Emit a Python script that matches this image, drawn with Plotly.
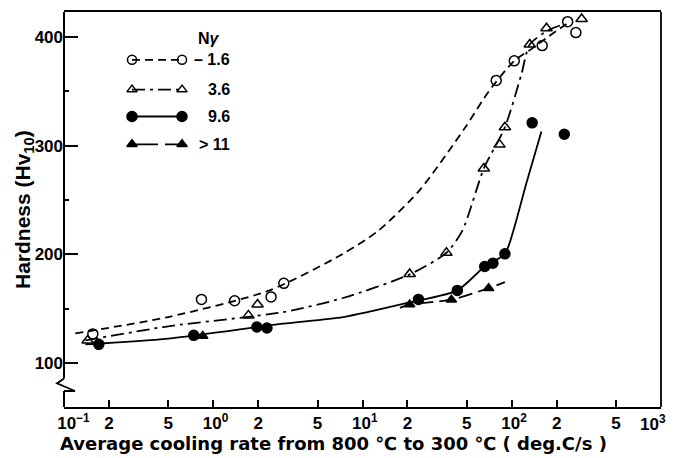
import plotly.graph_objects as go

# ---------------- data ----------------
# measured points
pts_16_x = [0.156, 0.834, 1.39, 2.44, 2.97, 78.7, 104, 160, 237, 269]
pts_16_y = [127, 158.7, 157.5, 161, 173.5, 360, 378, 392, 414, 404]

pts_36_x = [0.144, 1.72, 1.98, 20.7, 36.5, 65, 82.8, 90, 132, 171, 294]
pts_36_y = [121, 144, 154, 182, 201.5, 279, 301, 317, 393, 408, 416.5]

pts_96_x = [0.171, 0.74, 1.96, 2.29, 23.7, 43.2, 65.9, 74.8, 90, 137, 225]
pts_96_y = [117.4, 125.7, 133.3, 132.4, 158.7, 167, 189, 192, 200.6, 321, 310.5]

pts_11_x = [0.85, 20.7, 39.4, 70]
pts_11_y = [125, 154, 158.4, 169]

# hand-drawn fit curves
curve_16_x = [0.119, 0.50, 2.38, 7.4, 12.8, 24.1, 48.9, 70.2, 104, 136, 175, 242]
curve_16_y = [127.5, 142.5, 167, 200.6, 222, 259, 317, 350, 378, 389, 400, 413.5]

curve_36_x = [0.139, 0.5, 2.93, 7.4, 20.7, 36.5, 46.7, 65, 90, 116, 132, 175, 226]
curve_36_y = [121, 134, 147, 160, 181.7, 201.6, 222, 279, 317, 365.5, 393, 406, 412]

curve_96_x = [0.139, 0.5, 2.93, 7.4, 20.7, 43.2, 65.9, 90, 102.6, 125, 158]
curve_96_y = [117.4, 122.7, 136.4, 142.5, 156, 167, 189, 200.6, 222, 265, 313]

curve_11_x = [17.8, 20.7, 39.4, 70, 90]
curve_11_y = [151, 154, 158.4, 169, 174.6]

NB = "\u00a0"
x_tickvals = [0.1, 0.2, 0.5, 1, 2, 5, 10, 20, 50, 100, 200, 500, 1000]
x_ticktext = [NB * 4 + "10<sup>−1</sup>", "2", "5", NB + "10<sup>0</sup>", "2", "5",
              NB + "10<sup>1</sup>", "2", "5", NB + "10<sup>2</sup>", "2", "5", ""]
x_last_label = "10<sup>3</sup>"   # drawn separately so it is not clipped at the edge
y_tickvals = [100, 200, 300, 400]
y_minorvals = [150, 250, 350]

legend_title = "N<i>γ</i>"
legend_labels = ["– 1.6", "3.6", "9.6", "> 11"]

# ---------------- styles ----------------
FONT = "Liberation Sans"
BLK = "black"
DASH_16 = "8px,5px"
DASH_36 = "13px,5px,3px,5px"
DASH_11 = "14px,6px"

fig = go.Figure()


def add_curve(x, y, dash):
    fig.add_trace(go.Scatter(x=x, y=y, mode="lines", showlegend=False, hoverinfo="skip",
                             line=dict(color=BLK, width=1.8, dash=dash, shape="spline", smoothing=0.7)))


def add_pts(x, y, symbol, size):
    fig.add_trace(go.Scatter(x=x, y=y, mode="markers", showlegend=False, hoverinfo="skip",
                             marker=dict(symbol=symbol, size=size, color=BLK,
                                         line=dict(color=BLK, width=1.5))))


add_curve(curve_16_x, curve_16_y, DASH_16)
add_curve(curve_36_x, curve_36_y, DASH_36)
add_curve(curve_96_x, curve_96_y, "solid")
add_curve(curve_11_x, curve_11_y, DASH_11)

add_pts(pts_16_x, pts_16_y, "circle-open", 10)
add_pts(pts_36_x, pts_36_y, "triangle-up-open", 10)
add_pts(pts_96_x, pts_96_y, "circle", 10)
add_pts(pts_11_x, pts_11_y, "triangle-up", 9)

# ---------------- custom legend on an overlay (paper-like) axis ----------------
leg_rows_y = [0.879, 0.8035, 0.7355, 0.665]
leg_x0, leg_x1 = 0.1139, 0.1977
leg_styles = [("circle-open", 9, DASH_16), ("triangle-up-open", 9, DASH_36),
              ("circle", 10, "solid"), ("triangle-up", 9, "26px,7px,20px")]
for ry, (sym, sz, dash) in zip(leg_rows_y, leg_styles):
    fig.add_trace(go.Scatter(x=[leg_x0, leg_x1], y=[ry, ry], xaxis="x2", yaxis="y2",
                             mode="lines+markers", showlegend=False, hoverinfo="skip",
                             line=dict(color=BLK, width=1.8, dash=dash),
                             marker=dict(symbol=sym, size=sz, color=BLK,
                                         line=dict(color=BLK, width=1.5))))

annotations = []
for ry, lab in zip(leg_rows_y, legend_labels):
    annotations.append(dict(x=0.2814, y=ry, xref="paper", yref="paper", text=lab,
                            showarrow=False, xanchor="right", yanchor="middle",
                            font=dict(family=FONT, size=16, color=BLK, weight=700)))
annotations.append(dict(x=0.2647, y=0.932, xref="paper", yref="paper", text=legend_title,
                        showarrow=False, xanchor="right", yanchor="middle",
                        font=dict(family=FONT, size=16, color=BLK, weight=700)))
# last x tick label
annotations.append(dict(x=1.0117, y=-0.040, xref="paper", yref="paper", text=x_last_label,
                        showarrow=False, xanchor="right", yanchor="middle",
                        font=dict(family=FONT, size=17, color=BLK, weight=700)))
# axis titles
annotations.append(dict(x=0.4514, y=-0.0932, xref="paper", yref="paper",
                        text="Average cooling rate from 800 ℃ to 300 ℃ ( deg.C/s )",
                        showarrow=False, xanchor="center", yanchor="middle",
                        font=dict(family="DejaVu Sans", size=18, color=BLK, weight=700)))
annotations.append(dict(x=-0.0921, y=0.4987, xref="paper", yref="paper",
                        text="Hardness (Hv<sub>10</sub>)", textangle=-90,
                        showarrow=False, xanchor="left", yanchor="middle",
                        font=dict(family=FONT, size=21, color=BLK, weight=700)))

Y0, Y1 = 59.8, 422.9
shapes = [
    # right frame
    dict(type="line", xref="paper", yref="paper", x0=1, x1=1, y0=0, y1=1,
         line=dict(color=BLK, width=1.8)),
    # left frame with break
    dict(type="line", xref="paper", yref="y", x0=0, x1=0, y0=86, y1=Y1,
         line=dict(color=BLK, width=2)),
    dict(type="line", xref="paper", yref="y", x0=0, x1=0, y0=Y0, y1=74.5,
         line=dict(color=BLK, width=2)),
    dict(type="path", xref="paper", yref="y", xsizemode="pixel", xanchor=0,
         path="M0,86 L-7,81.5 L11,74.5 L0,74.5",
         line=dict(color=BLK, width=1.8)),
]

tickfont = dict(family=FONT, size=17, color=BLK, weight=700)
# page body has an 8px default margin, so the figure is 8px smaller on each side
fig.update_layout(
    width=670, height=450,
    margin=dict(l=56, r=17, t=2, b=51),
    paper_bgcolor="white", plot_bgcolor="white",
    showlegend=False,
    xaxis=dict(type="log", range=[-1, 3], tickvals=x_tickvals, ticktext=x_ticktext,
               ticks="inside", ticklen=7, tickwidth=1.5, tickcolor=BLK,
               showline=True, mirror=True, linecolor=BLK, linewidth=2,
               showgrid=False, zeroline=False, tickfont=tickfont),
    yaxis=dict(range=[Y0, Y1], tickvals=y_tickvals, ticks="inside", ticklen=14,
               tickwidth=1.5, tickcolor=BLK, showline=False, showgrid=False,
               zeroline=False, tickfont=tickfont,
               minor=dict(tickvals=y_minorvals, ticks="inside", ticklen=5,
                          tickwidth=1.5, tickcolor=BLK, showgrid=False)),
    xaxis2=dict(overlaying="x", range=[0, 1], visible=False),
    yaxis2=dict(overlaying="y", range=[0, 1], visible=False),
    annotations=annotations,
    shapes=shapes,
)

fig.write_html("out.html")
